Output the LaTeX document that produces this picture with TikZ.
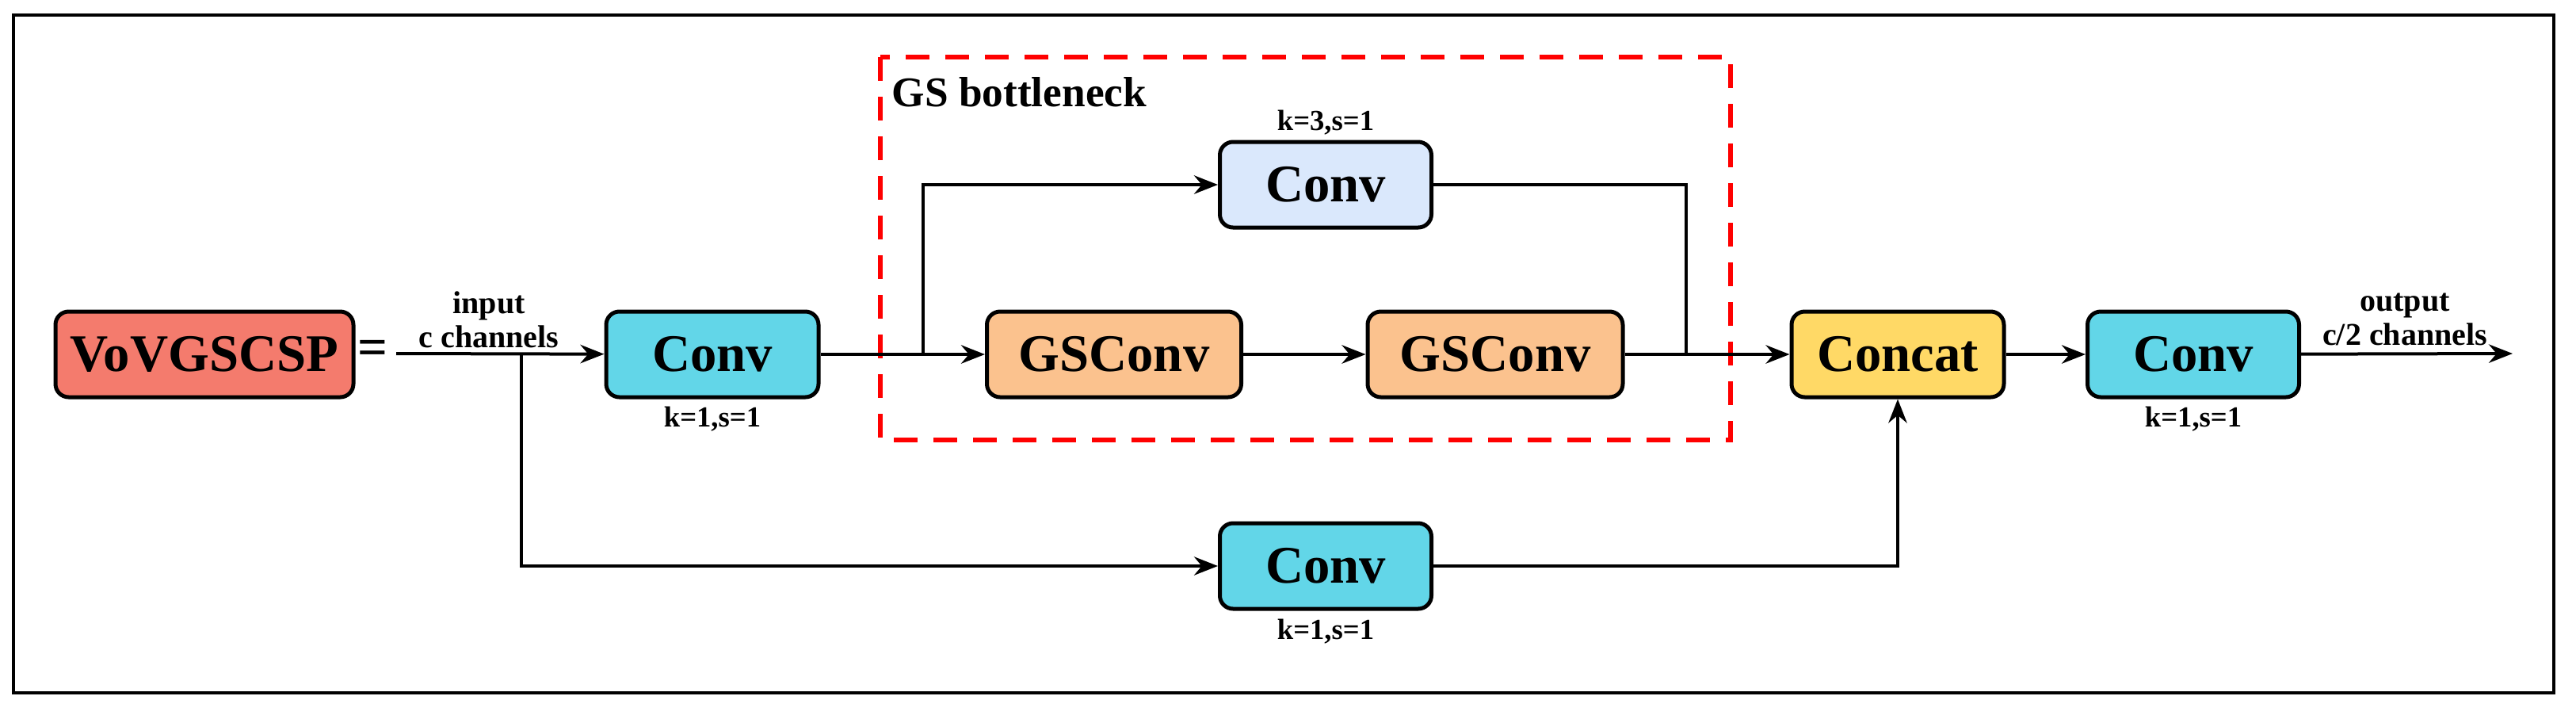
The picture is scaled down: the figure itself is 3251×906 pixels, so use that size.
\documentclass[tikz,border=0pt]{standalone}
\usepackage{fontspec}
\setmainfont{Liberation Serif}
\usetikzlibrary{arrows.meta}
\definecolor{salmon}{HTML}{F47B6D}
\definecolor{cyanb}{HTML}{62D6E8}
\definecolor{lblue}{HTML}{DAE8FC}
\definecolor{orng}{HTML}{FBC28E}
\definecolor{yel}{HTML}{FFD966}
\begin{document}
\begin{tikzpicture}[x=0.3pt,y=-0.3pt,
  blk/.style={draw=black,line width=1.5pt,rounded corners=5pt,inner sep=0pt,
    font=\fontsize{20}{22}\selectfont\bfseries,minimum height=108*0.3pt},
  lab/.style={font=\fontsize{11}{12}\selectfont\bfseries,inner sep=0pt},
  io/.style={font=\fontsize{12}{13}\selectfont\bfseries,inner sep=0pt,align=center},
  ln/.style={line width=1.2pt},
  arr/.style={ln,-{Stealth[length=9pt,width=7pt]}}]
\useasboundingbox (0,0) rectangle (3251,906);
\draw[line width=1.3pt] (17,19) rectangle (3223,874);
\draw[red,line width=2pt,dash pattern=on 9pt off 6pt] (1111,72) rectangle (2184,555);
\node[anchor=west,font=\fontsize{16}{18}\selectfont\bfseries,inner sep=0pt] (gst) at (1125,116) {GS bottleneck};

\node[blk,fill=salmon,minimum width=376*0.3pt] (vov) at (258,447) {VoVGSCSP};
\node[font=\fontsize{20}{22}\selectfont\bfseries,inner sep=0pt] (eq) at (470,445) {=};
\coordinate (in) at (500,446);
\node[blk,fill=cyanb,minimum width=268*0.3pt] (c1) at (899,447) {Conv};
\node[lab] (l1) at (899,529) {k=1,s=1};
\node[io] (it) at (617,403) {input\\c channels};
\node[blk,fill=orng,minimum width=321*0.3pt] (g1) at (1406,447) {GSConv};
\node[blk,fill=orng,minimum width=322*0.3pt] (g2) at (1887,447) {GSConv};
\node[blk,fill=lblue,minimum width=267*0.3pt] (c3) at (1673,233) {Conv};
\node[lab] (l3) at (1673,155) {k=3,s=1};
\node[blk,fill=cyanb,minimum width=267*0.3pt] (cb) at (1673,714) {Conv};
\node[lab] (lb) at (1673,797) {k=1,s=1};
\node[blk,fill=yel,minimum width=268*0.3pt] (cc) at (2395,447) {Concat};
\node[blk,fill=cyanb,minimum width=267*0.3pt] (c4) at (2768,447) {Conv};
\node[lab] (l4) at (2768,529) {k=1,s=1};
\node[io] (ot) at (3035,403) {output\\c/2 channels};
\coordinate (out) at (3171,446);
\coordinate (b1) at (658,446);
\coordinate (b2) at (1165,447);
\coordinate (b3) at (2128,447);

\draw[arr] (in) -- (c1);
\draw[arr] (c1) -- (g1);
\draw[arr] (g1) -- (g2);
\draw[arr] (b2) |- (c3);
\draw[ln] (c3) -| (b3);
\draw[arr] (g2) -- (cc);
\draw[arr] (b1) |- (cb);
\draw[arr] (cb) -| (cc);
\draw[arr] (cc) -- (c4);
\draw[arr] (c4) -- (out);
\end{tikzpicture}
\end{document}
